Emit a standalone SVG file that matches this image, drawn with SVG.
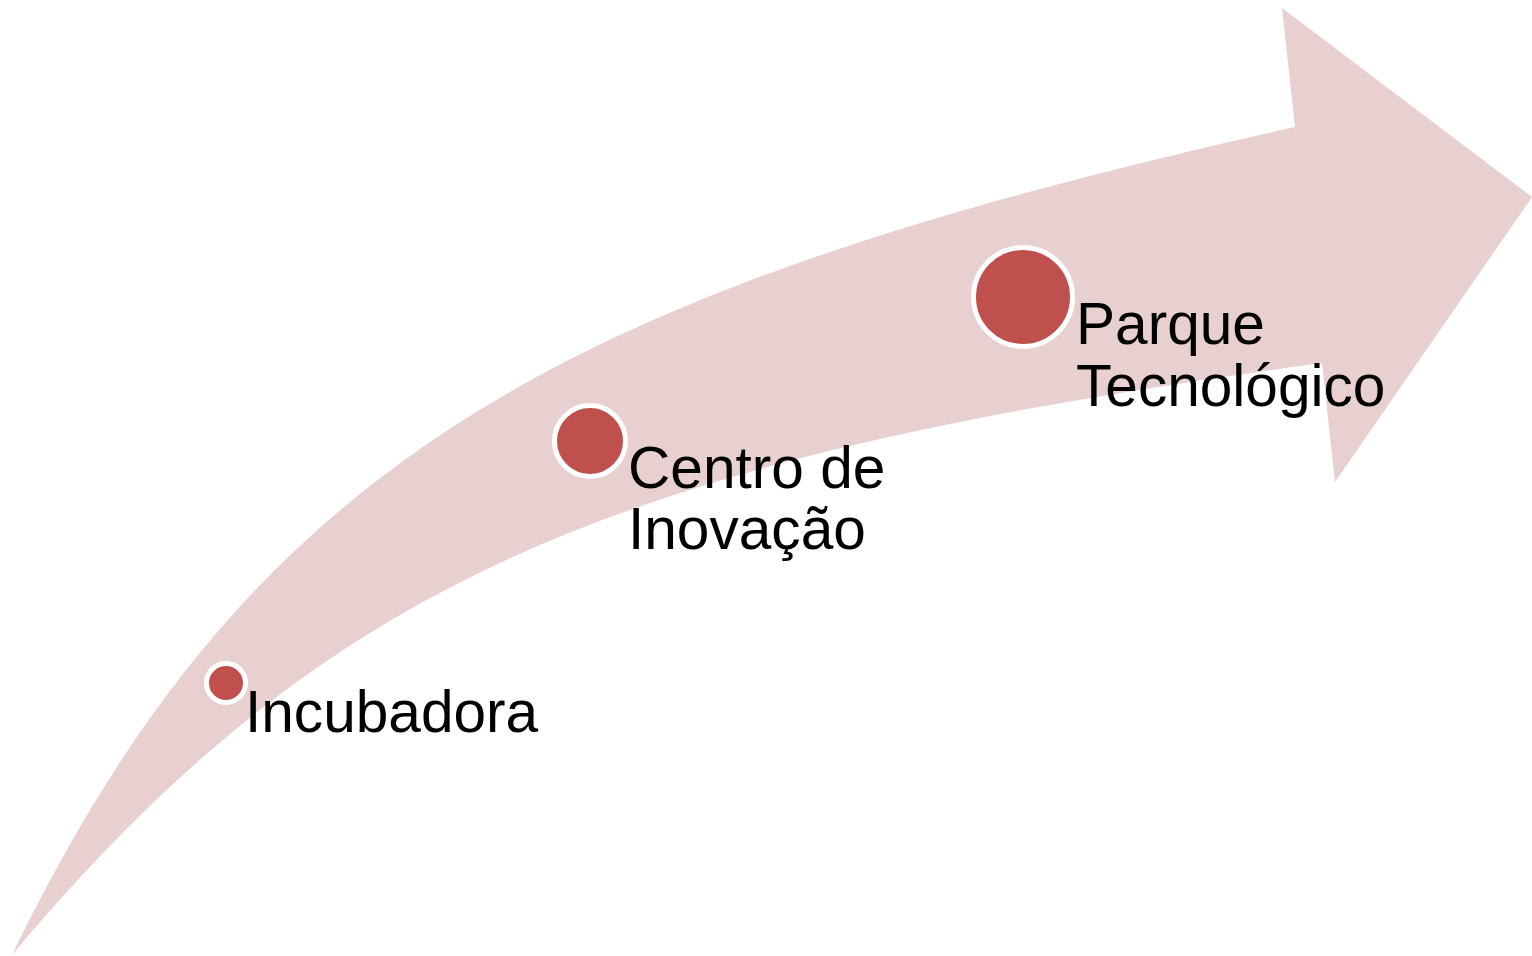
<svg xmlns="http://www.w3.org/2000/svg" width="1532" height="956" viewBox="0 0 1532 956">
<style>
.arrow{fill:#E8D0D1}
.dot{fill:#C0504D;stroke:#FFFFFF;stroke-width:5}
.lbl{font-family:"Liberation Sans",Arial,sans-serif;font-size:58.6px;fill:#000000}
</style>
<rect width="1532" height="956" fill="#FFFFFF"/>
<g id="connectors">
<path class="arrow" d="M12,955 C252,460 563,290 1295,127 L1282,8 L1532,197 L1335,482 L1322,363 C628,457 333,572 12,955 Z"/>
</g>
<g id="node-incubadora">
<circle class="dot" cx="226" cy="683" r="19.5"/>
<text class="lbl" x="245" y="732">Incubadora</text>
</g>
<g id="node-centro">
<circle class="dot" cx="590" cy="441" r="35.5"/>
<text class="lbl" x="628" y="488">Centro de</text>
<text class="lbl" x="628" y="549">Inovação</text>
</g>
<g id="node-parque">
<circle class="dot" cx="1023" cy="297" r="49.5"/>
<text class="lbl" x="1076" y="344">Parque</text>
<text class="lbl" x="1076" y="406">Tecnológico</text>
</g>
</svg>
